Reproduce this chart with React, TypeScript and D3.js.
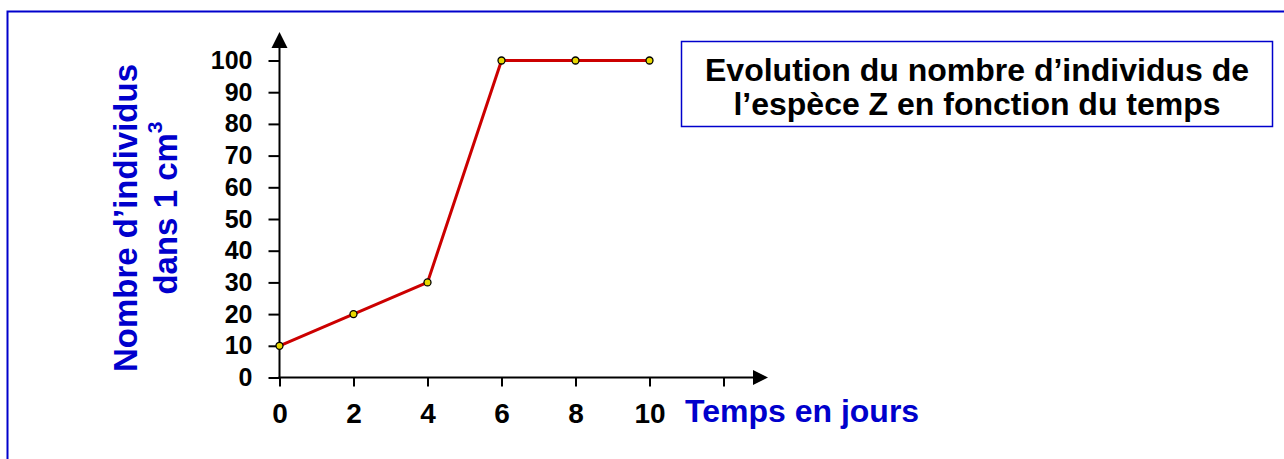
import { useEffect, useRef } from 'react';
import * as d3 from 'd3';

// Données
const days = [0, 2, 4, 6, 8, 10];
const counts = [10, 20, 30, 100, 100, 100];
const xTicks = [0, 2, 4, 6, 8, 10, 12];
const xLabels = ['0', '2', '4', '6', '8', '10', ''];
const yTicks = [0, 10, 20, 30, 40, 50, 60, 70, 80, 90, 100];
const titleLines = ['Evolution du nombre d’individus de', 'l’espèce Z en fonction du temps'];

const FONT = '"Liberation Sans", Arial, sans-serif';
const BLUE = '#0000CC';

const App = () => {
    const svgRef = useRef<SVGSVGElement>(null);

    useEffect(() => {
        const svg = d3.select(svgRef.current);
        const width = 1284;
        const height = 459;

        svg.selectAll('*').remove();

        // cadre extérieur
        svg.append('rect')
            .attr('x', 7.5).attr('y', 11.5)
            .attr('width', 1300).attr('height', 500)
            .attr('fill', 'none')
            .attr('stroke', BLUE)
            .attr('stroke-width', 2);

        const x = d3.scaleLinear().domain([0, 12]).range([279.5, 723.5]);
        const y = d3.scaleLinear().domain([0, 100]).range([377.5, 60.5]);

        // axe Y
        const gy = svg.append('g')
            .attr('transform', `translate(${x(0)},0)`)
            .call(d3.axisLeft(y).tickValues(yTicks).tickSize(11).tickPadding(16).tickFormat(d3.format('d')));
        gy.select('.domain').remove();
        gy.selectAll('line').attr('stroke', '#000').attr('stroke-width', 2);
        gy.selectAll('text')
            .attr('font-family', FONT)
            .attr('font-weight', 'bold')
            .attr('font-size', 25)
            .attr('fill', '#000');

        // axe X
        const gx = svg.append('g')
            .attr('transform', `translate(0,${y(0)})`)
            .call(d3.axisBottom(x).tickValues(xTicks).tickSize(9).tickPadding(17)
                .tickFormat((d, i) => xLabels[i]));
        gx.select('.domain').remove();
        gx.selectAll('line').attr('stroke', '#000').attr('stroke-width', 2);
        gx.selectAll('text')
            .attr('font-family', FONT)
            .attr('font-weight', 'bold')
            .attr('font-size', 28)
            .attr('fill', '#000');

        // lignes d'axes avec flèches
        svg.append('line')
            .attr('x1', x(0)).attr('y1', y(0) + 1)
            .attr('x2', x(0)).attr('y2', 46)
            .attr('stroke', '#000').attr('stroke-width', 2);
        svg.append('path')
            .attr('d', `M${x(0)},32 L${x(0) - 8},48 L${x(0) + 8},48 Z`)
            .attr('fill', '#000');
        svg.append('line')
            .attr('x1', x(0) - 1).attr('y1', y(0))
            .attr('x2', 755).attr('y2', y(0))
            .attr('stroke', '#000').attr('stroke-width', 2);
        svg.append('path')
            .attr('d', `M768,${y(0)} L753,${y(0) - 7.5} L753,${y(0) + 7.5} Z`)
            .attr('fill', '#000');

        // courbe
        const pts = days.map((d, i) => [d, counts[i]] as [number, number]);
        const line = d3.line<[number, number]>().x(d => x(d[0])).y(d => y(d[1]));
        svg.append('path')
            .attr('d', line(pts))
            .attr('fill', 'none')
            .attr('stroke', '#CC0000')
            .attr('stroke-width', 3);
        svg.append('g')
            .selectAll('circle')
            .data(pts)
            .join('circle')
            .attr('cx', d => x(d[0]))
            .attr('cy', d => y(d[1]))
            .attr('r', 3.5)
            .attr('fill', '#E8D800')
            .attr('stroke', '#000')
            .attr('stroke-width', 1.3);

        // titre de l'axe X
        svg.append('text')
            .attr('x', 685).attr('y', 422)
            .attr('font-family', FONT)
            .attr('font-weight', 'bold')
            .attr('font-size', 32)
            .attr('fill', BLUE)
            .text('Temps en jours');

        // titre de l'axe Y
        const yl1 = svg.append('text')
            .attr('transform', 'translate(137,218) rotate(-90)')
            .attr('text-anchor', 'middle')
            .attr('font-family', FONT)
            .attr('font-weight', 'bold')
            .attr('font-size', 33)
            .attr('fill', BLUE);
        yl1.text('Nombre d’individus');
        const yl2 = svg.append('text')
            .attr('transform', 'translate(177,208) rotate(-90)')
            .attr('text-anchor', 'middle')
            .attr('font-family', FONT)
            .attr('font-weight', 'bold')
            .attr('font-size', 33)
            .attr('fill', BLUE);
        yl2.append('tspan').text('dans 1 cm');
        yl2.append('tspan').attr('font-size', 21).attr('dy', -15).text('3');

        // encadré du titre
        svg.append('rect')
            .attr('x', 681.5).attr('y', 41.5)
            .attr('width', 591).attr('height', 85)
            .attr('fill', '#fff')
            .attr('stroke', BLUE)
            .attr('stroke-width', 1.5);
        svg.append('text')
            .attr('x', 977).attr('y', 81)
            .attr('text-anchor', 'middle')
            .attr('font-family', FONT)
            .attr('font-weight', 'bold')
            .attr('font-size', 32)
            .attr('fill', '#000')
            .selectAll('tspan')
            .data(titleLines)
            .join('tspan')
            .attr('x', 977)
            .attr('dy', (d, i) => (i === 0 ? 0 : 34))
            .text(d => d);

        svg.attr('width', width).attr('height', height);
    }, []);

    return (
        <svg ref={svgRef} width="1284" height="459"
            style={{ position: 'absolute', left: 0, top: 0, display: 'block', background: '#fff' }}></svg>
    );
};

export default App;
